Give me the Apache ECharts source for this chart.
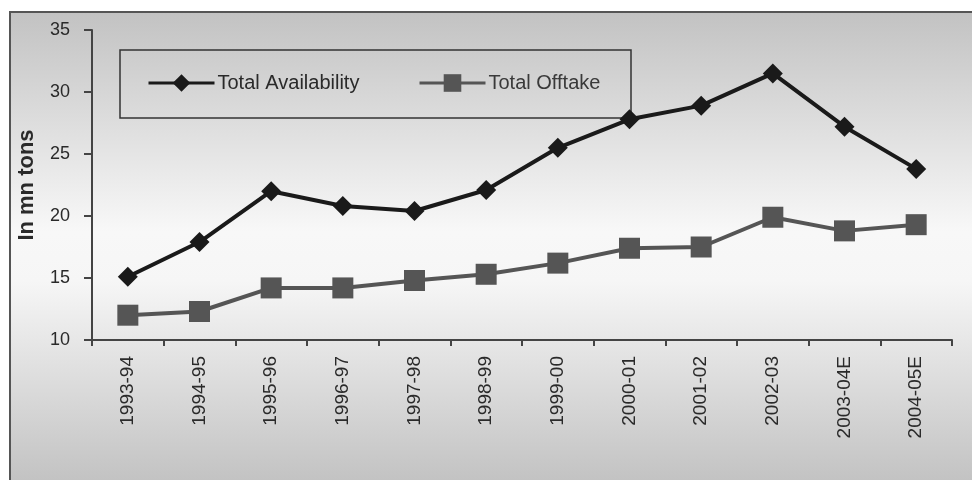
<!DOCTYPE html>
<html>
<head>
<meta charset="utf-8">
<script src="https://cdn.jsdelivr.net/npm/echarts@6/dist/echarts.min.js"></script>
<style>
  html, body { margin: 0; padding: 0; background: #fff; }
  #main { width: 972px; height: 480px; }
</style>
</head>
<body>
<div id="main"></div>
<script>
var myChart = echarts.init(document.getElementById("main"));

// 数据
var years = ["1993-94", "1994-95", "1995-96", "1996-97", "1997-98", "1998-99",
  "1999-00", "2000-01", "2001-02", "2002-03", "2003-04E", "2004-05E"];
var availability = [15.1, 17.9, 22.0, 20.8, 20.4, 22.1, 25.5, 27.8, 28.9, 31.5, 27.2, 23.8];
var offtake = [12.0, 12.3, 14.2, 14.2, 14.8, 15.3, 16.2, 17.4, 17.5, 19.9, 18.8, 19.3];
var yTicks = [10, 15, 20, 25, 30, 35];

var option = {
  textStyle: { fontFamily: "Liberation Sans" },
  graphic: [
    {
      type: "rect",
      z: -10,
      shape: { x: 10, y: 12, width: 990, height: 490 },
      style: {
        fill: new echarts.graphic.LinearGradient(0, 0, 0, 1, [
          { offset: 0, color: "#c2c2c2" },
          { offset: 0.45, color: "#f8f8f8" },
          { offset: 0.55, color: "#f6f6f6" },
          { offset: 1, color: "#bdbdbd" },
        ]),
        stroke: "#555",
        lineWidth: 2,
      },
    },
    {
      type: "rect",
      shape: { x: 120, y: 50, width: 511, height: 68 },
      style: { fill: "transparent", stroke: "#333", lineWidth: 1.5 },
    },
  ],
  legend: [
    {
      data: ["Total Availability"],
      left: 147,
      top: 73,
      padding: 0,
      itemWidth: 66,
      itemHeight: 22,
      itemGap: 4,
      lineStyle: { width: 3 },
      textStyle: { fontSize: 20, color: "#2a2a2a", padding: [0, 0, 0, -2] },
    },
    {
      data: ["Total Offtake"],
      left: 418,
      top: 73,
      padding: 0,
      itemWidth: 66,
      itemHeight: 22,
      itemGap: 4,
      lineStyle: { width: 3 },
      textStyle: { fontSize: 20, color: "#3a3a3a", padding: [0, 0, 0, -2] },
    },
  ],
  grid: { left: 92, right: 20, top: 30, bottom: 140 },
  xAxis: {
    type: "category",
    data: years,
    boundaryGap: true,
    axisLine: { lineStyle: { color: "#444", width: 2 } },
    axisTick: { show: true, length: 6, lineStyle: { color: "#444", width: 2 } },
    axisLabel: { rotate: 90, margin: 16, fontSize: 19, color: "#2a2a2a" },
  },
  yAxis: {
    type: "value",
    min: yTicks[0],
    max: yTicks[yTicks.length - 1],
    interval: 5,
    name: "In mn tons",
    nameLocation: "middle",
    nameGap: 54,
    nameTextStyle: { fontSize: 22, fontWeight: "bold", color: "#2a2a2a" },
    axisLine: { show: true, lineStyle: { color: "#444", width: 2 } },
    axisTick: { show: true, length: 8, lineStyle: { color: "#444", width: 2 } },
    axisLabel: { margin: 22, fontSize: 18, color: "#2a2a2a" },
    splitLine: { show: false },
  },
  series: [
    {
      name: "Total Availability",
      type: "line",
      data: availability,
      symbol: "diamond",
      symbolSize: 20,
      itemStyle: { color: "#1a1a1a" },
      lineStyle: { color: "#1a1a1a", width: 4 },
    },
    {
      name: "Total Offtake",
      type: "line",
      data: offtake,
      symbol: "rect",
      symbolSize: 21,
      itemStyle: { color: "#555" },
      lineStyle: { color: "#555", width: 4 },
    },
  ],
};

myChart.setOption(option);
</script>
</body>
</html>
